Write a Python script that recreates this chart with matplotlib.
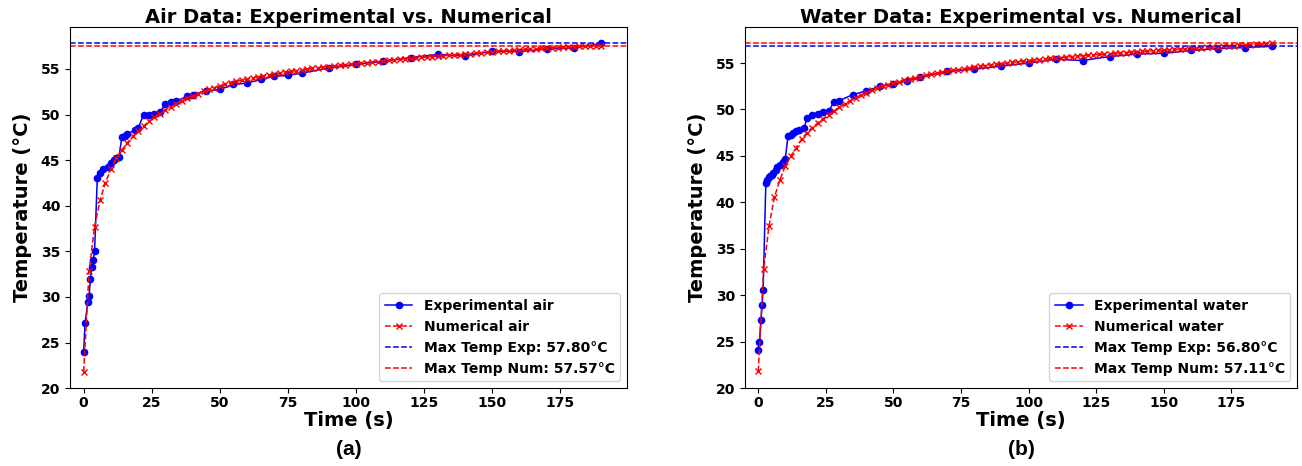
import matplotlib
matplotlib.use('Agg')
import matplotlib.pyplot as plt
import numpy as np

# Experimental air data (time in s, temperature in °C)
air_exp_time = [0, 0.5, 1.5, 2, 2.5, 3, 3.5, 4, 5, 6, 7, 9, 10, 11, 12, 13, 14, 15, 16,
                19, 20, 22, 24, 26, 28, 30, 32, 34, 38, 40, 45, 50, 55, 60, 65, 70, 75, 80,
                90, 100, 110, 120, 130, 140, 150, 160, 170, 180, 190]
air_exp_temp = [24.0, 27.1, 29.4, 30.1, 32.0, 33.3, 34.0, 35.0, 43.0, 43.6, 44.0, 44.3, 44.7,
                45.0, 45.2, 45.4, 47.5, 47.7, 47.9, 48.3, 48.5, 50.0, 49.9, 50.1, 50.25, 51.2,
                51.35, 51.45, 52.0, 52.2, 52.6, 52.75, 53.3, 53.45, 53.85, 54.2, 54.3, 54.55,
                55.1, 55.5, 55.85, 56.25, 56.6, 56.4, 56.95, 56.9, 57.2, 57.3, 57.8]

# Numerical time steps (every 2 s)
num_time = list(range(0, 191, 2))

air_num_temp = [21.8, 32.9, 37.7, 40.6, 42.55, 44.0, 45.2, 46.1, 46.9, 47.6,
                48.2, 48.75, 49.25, 49.7, 50.1, 50.5, 50.85, 51.2, 51.5, 51.8,
                52.05, 52.3, 52.55, 52.75, 52.95, 53.15, 53.32, 53.48, 53.63, 53.77,
                53.9, 54.02, 54.13, 54.24, 54.35, 54.45, 54.55, 54.64, 54.73, 54.82,
                54.9, 54.98, 55.06, 55.13, 55.2, 55.27, 55.34, 55.41, 55.47, 55.53,
                55.59, 55.65, 55.71, 55.77, 55.82, 55.87, 55.93, 55.99, 56.05, 56.11,
                56.16, 56.21, 56.26, 56.31, 56.36, 56.41, 56.45, 56.5, 56.54, 56.58,
                56.62, 56.67, 56.72, 56.77, 56.83, 56.88, 56.92, 56.97, 57.01, 57.06,
                57.1, 57.14, 57.18, 57.21, 57.25, 57.28, 57.31, 57.35, 57.38, 57.41,
                57.44, 57.47, 57.5, 57.52, 57.55, 57.57]

# Experimental water data
water_exp_time = [0, 0.4, 1, 1.4, 1.8, 2.8, 3.4, 4, 4.5, 5, 5.5, 6.5, 7, 8, 9, 10, 11, 12, 13,
                  14, 15, 17, 18, 20, 22, 24, 26, 28, 30, 35, 40, 45, 50, 55, 60, 70, 80, 90,
                  100, 110, 120, 130, 140, 150, 160, 170, 180, 190]
water_exp_temp = [24.07, 24.97, 27.3, 28.97, 30.6, 42.06, 42.4, 42.7, 42.85, 42.97, 43.2, 43.5,
                  43.8, 44.05, 44.4, 44.7, 47.1, 47.3, 47.5, 47.7, 47.8, 48.0, 49.1, 49.4, 49.5,
                  49.7, 49.8, 50.8, 50.96, 51.6, 52.0, 52.5, 52.75, 53.1, 53.5, 54.1, 54.34,
                  54.67, 55.0, 55.4, 55.27, 55.7, 55.96, 56.05, 56.35, 56.56, 56.67, 56.8]

water_num_temp = [21.8, 32.8, 37.5, 40.6, 42.4, 43.95, 44.96, 45.88, 46.8, 47.5,
                  48.05, 48.55, 49.0, 49.45, 49.85, 50.25, 50.6, 50.95, 51.25, 51.55,
                  51.8, 52.05, 52.3, 52.5, 52.68, 52.85, 53.0, 53.15, 53.29, 53.42,
                  53.55, 53.67, 53.79, 53.9, 54.01, 54.11, 54.21, 54.3, 54.39, 54.48,
                  54.56, 54.64, 54.72, 54.8, 54.87, 54.94, 55.01, 55.08, 55.14, 55.2,
                  55.26, 55.32, 55.38, 55.44, 55.49, 55.54, 55.59, 55.64, 55.69, 55.74,
                  55.79, 55.84, 55.88, 55.92, 55.97, 56.01, 56.05, 56.09, 56.13, 56.17,
                  56.21, 56.25, 56.29, 56.32, 56.36, 56.4, 56.43, 56.47, 56.51, 56.54,
                  56.58, 56.61, 56.65, 56.69, 56.72, 56.76, 56.79, 56.83, 56.86, 56.9,
                  56.93, 56.97, 57.0, 57.04, 57.07, 57.11]

fig = plt.figure(figsize=(13.02, 4.66), dpi=100)
ax1 = fig.add_axes([0.0538, 0.167, 0.4278, 0.775])
ax2 = fig.add_axes([0.572, 0.167, 0.4245, 0.775])

panels = [
    (ax1, air_exp_time, air_exp_temp, air_num_temp, 'air', 'Air Data: Experimental vs. Numerical', '(a)'),
    (ax2, water_exp_time, water_exp_temp, water_num_temp, 'water', 'Water Data: Experimental vs. Numerical', '(b)'),
]

for ax, t_exp, T_exp, T_num, name, title, tag in panels:
    ax.plot(t_exp, T_exp, 'b-o', markersize=4.5, linewidth=1.1, label=f'Experimental {name}')
    ax.plot(num_time, T_num, 'r--x', markersize=5, linewidth=1.1, label=f'Numerical {name}')
    max_exp = max(T_exp)
    max_num = max(T_num)
    ax.axhline(y=max_exp, color='blue', linestyle='--', linewidth=1.1,
               label=f'Max Temp Exp: {max_exp:.2f}°C')
    ax.axhline(y=max_num, color='red', linestyle='--', linewidth=1.1,
               label=f'Max Temp Num: {max_num:.2f}°C')

    ax.set_title(title, fontsize=14, fontweight='bold', pad=3)
    ax.set_xlabel('Time (s)', fontsize=14, fontweight='bold', labelpad=0.5)
    ax.set_ylabel('Temperature (°C)', fontsize=14, fontweight='bold', labelpad=6)
    ax.set_xticks([0, 25, 50, 75, 100, 125, 150, 175])
    ax.set_yticks([20, 25, 30, 35, 40, 45, 50, 55])
    ax.set_xlim(-5, 199.5)
    ax.tick_params(axis='x', pad=2)
    for lbl in ax.get_xticklabels() + ax.get_yticklabels():
        lbl.set_fontweight('bold')
        lbl.set_fontsize(10)
    ax.legend(loc='lower right', prop={'weight': 'bold', 'size': 10})

    pos = ax.get_position()
    fig.text((pos.x0 + pos.x1) / 2, 0.035, tag, ha='center', va='center',
             fontsize=15, fontweight='bold', family='Liberation Sans')

fig.savefig('out.png', dpi=100)
